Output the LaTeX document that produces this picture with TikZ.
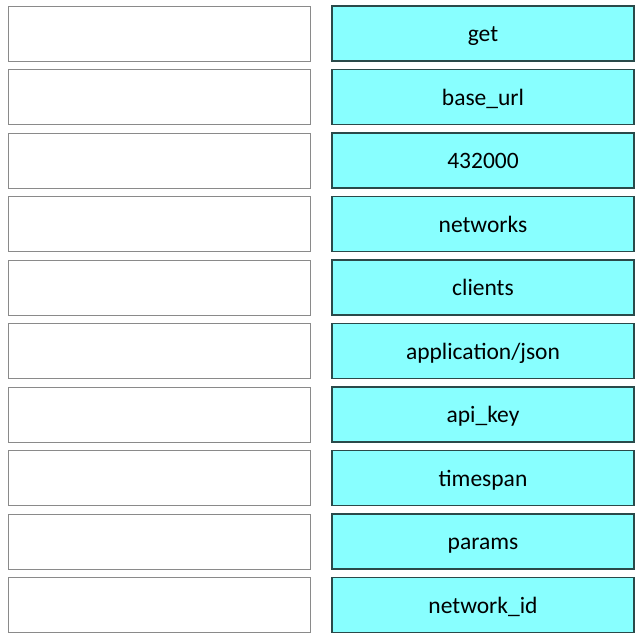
\documentclass[tikz,border=0pt]{standalone}
\usepackage{fontspec}
\setmainfont{Carlito}
\definecolor{boxfill}{HTML}{88FFFF}
\definecolor{boxline}{HTML}{2A4A4A}
\definecolor{slotline}{HTML}{8A8A8A}
\tikzset{
  slotbox/.style={draw=slotline, line width=0.8pt, fill=white, rectangle, minimum width=302pt, minimum height=55pt, inner sep=0pt},
  termbox/.style={draw=boxline, line width=1.2pt, fill=boxfill, rectangle, minimum width=302pt, minimum height=55pt, inner sep=0pt, text height=18pt, text depth=2pt, font=\fontsize{23.5}{27}\selectfont, text=black}
}
\begin{document}
\begin{tikzpicture}[x=1pt,y=-1pt]
\useasboundingbox (0,0) rectangle (640,640);
\fill[white] (0,0) rectangle (640,640);
\foreach \i/\t in {0/{get},1/{base\_url},2/{432000},3/{networks},4/{clients},5/{application/json},6/{api\_key},7/{timespan},8/{params},9/{network\_id}}{
  \node[slotbox] (s\i) at (159,{33.5+63.5*\i}) {};
  \node[termbox] (t\i) at (483,{33.5+63.5*\i}) {\t};
}
\end{tikzpicture}
\end{document}
